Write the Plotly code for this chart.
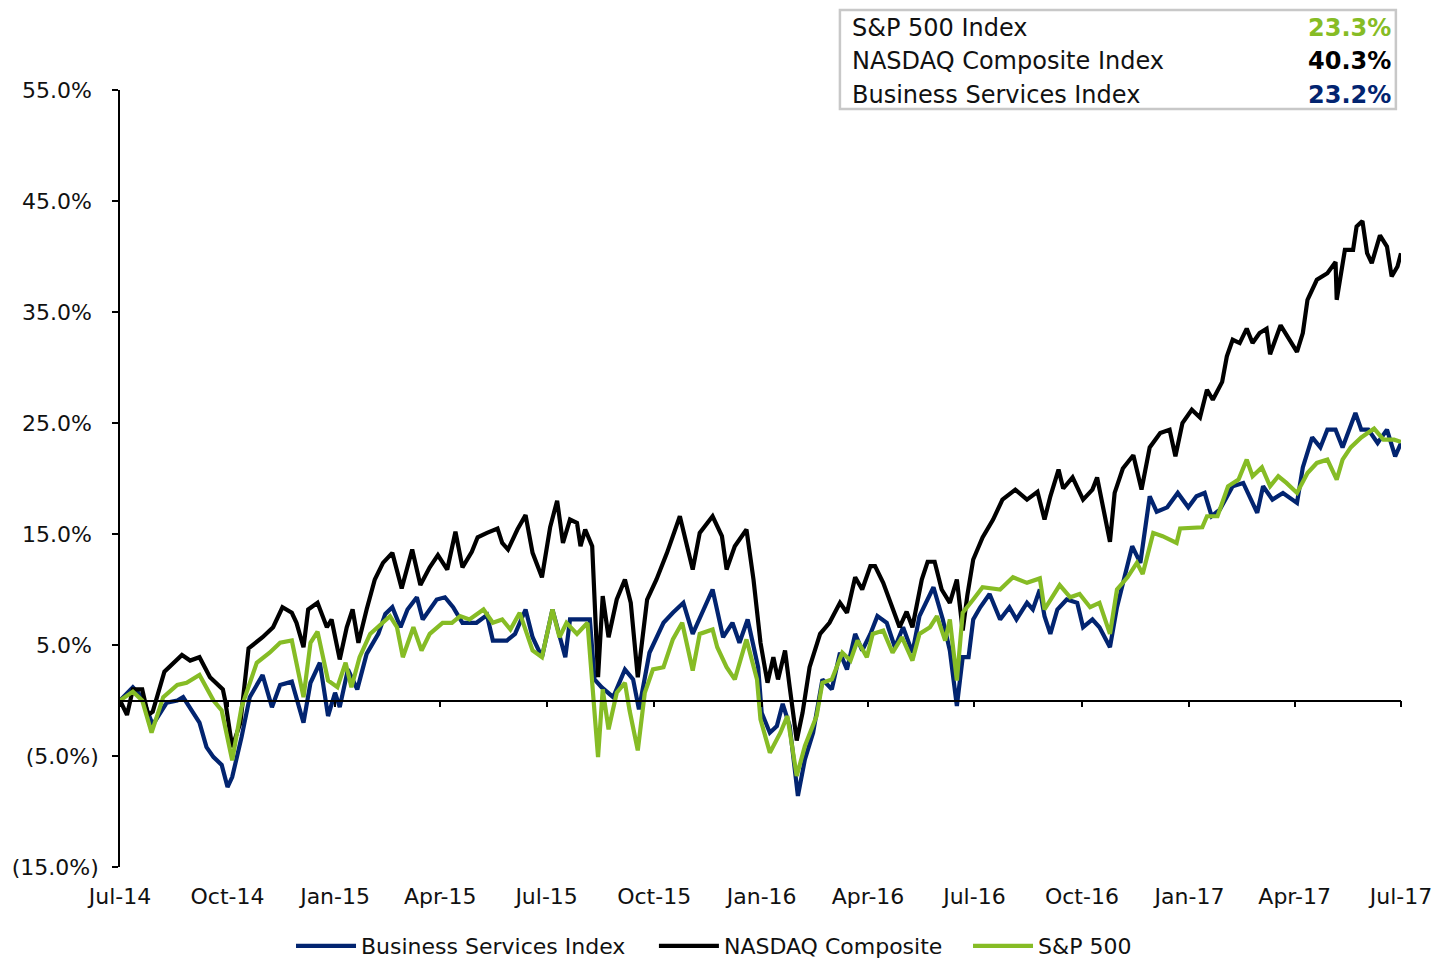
import pandas as pd
import plotly.graph_objects as go

START = pd.Timestamp("2014-07-01")

# Business Services Index (days since 1-Jul-2014, cumulative return %)
bsi_days = [0, 11, 19, 28, 40, 49, 54, 62, 68, 74, 80, 87, 92, 96, 104, 111, 122, 130, 137, 147,
            157, 163, 171, 178, 184, 188, 195, 203, 211, 221, 227, 233, 240, 246, 254, 259, 271, 278,
            285, 293, 305, 314, 319, 331, 338, 347, 353, 361, 370, 381, 385, 394, 402, 406, 412, 422,
            432, 439, 444, 453, 465, 473, 482, 490, 499, 507, 516, 524, 530, 537, 546, 549, 556, 562,
            567, 573, 580, 586, 593, 601, 609, 616, 622, 629, 635, 642, 648, 656, 663, 670, 678, 684,
            696, 704, 710, 716, 721, 726, 730, 736, 744, 753, 761, 767, 776, 781, 787, 791, 796, 802,
            810, 819, 824, 832, 838, 847, 853, 858, 866, 873, 881, 887, 896, 905, 914, 921, 928, 934,
            941, 952, 961, 973, 978, 986, 995, 1007, 1012, 1020, 1027, 1033, 1040, 1046, 1051, 1057,
            1062, 1068, 1076, 1084, 1091, 1096]
bsi_vals = [0.0, 1.2, 0.3, -2.2, -0.2, 0.0, 0.3, -1.1, -2.0, -4.2, -5.1, -5.8, -7.8, -6.9, -3.3, 0.3,
            2.3, -0.6, 1.4, 1.7, -2.0, 1.6, 3.4, -1.4, 0.7, -0.6, 2.8, 1.0, 4.2, 6.0, 7.8, 8.4, 6.6,
            8.2, 9.3, 7.3, 9.1, 9.3, 8.4, 7.0, 7.0, 7.7, 5.4, 5.4, 6.0, 8.2, 5.7, 3.9, 8.2, 3.9, 7.3,
            7.3, 7.3, 1.9, 1.2, 0.3, 2.8, 1.9, -0.8, 4.3, 7.0, 7.9, 8.8, 6.0, 8.2, 10.0, 5.7, 7.0, 5.2,
            7.3, 3.0, -1.1, -2.9, -2.3, -0.3, -2.3, -8.6, -5.3, -2.9, 1.9, 1.0, 4.3, 2.8, 6.0, 4.5,
            6.0, 7.6, 7.0, 4.8, 6.6, 4.3, 7.6, 10.2, 7.3, 4.5, -0.5, 3.9, 3.9, 7.3, 8.4, 9.6, 7.3,
            8.4, 7.3, 8.8, 8.2, 10.0, 7.6, 6.0, 8.2, 9.1, 8.8, 6.6, 7.3, 6.6, 4.8, 8.4, 10.6, 13.9,
            12.4, 18.4, 17.0, 17.4, 18.7, 17.4, 18.4, 18.7, 16.6, 17.2, 19.3, 19.6, 16.9, 19.3, 18.1,
            18.7, 17.8, 21.0, 23.7, 22.8, 24.4, 24.4, 22.8, 24.1, 25.9, 24.4, 24.4, 23.2, 24.4, 22.0,
            23.2]

# NASDAQ Composite
nasdaq_days = [0, 6, 11, 19, 24, 28, 38, 53, 60, 68, 77, 88, 90, 96, 103, 110, 122, 131, 139, 147,
               151, 157, 161, 169, 177, 181, 188, 194, 199, 204, 211, 218, 225, 233, 241, 250, 257,
               265, 272, 280, 287, 293, 301, 306, 314, 323, 327, 332, 340, 347, 353, 361, 368, 374,
               379, 385, 391, 394, 398, 404, 409, 413, 418, 425, 432, 437, 443, 451, 459, 468, 479,
               490, 496, 507, 515, 519, 526, 536, 542, 548, 554, 559, 563, 569, 573, 579, 584, 590,
               599, 607, 616, 622, 629, 635, 642, 646, 653, 661, 667, 673, 678, 686, 691, 697, 703,
               710, 716, 721, 725, 730, 738, 747, 755, 766, 776, 785, 791, 796, 803, 807, 815, 824,
               832, 836, 841, 847, 851, 858, 867, 874, 881, 890, 898, 903, 909, 917, 924, 930, 935,
               943, 947, 952, 958, 964, 969, 975, 981, 984, 993, 999, 1007, 1012, 1016, 1024, 1033,
               1040, 1041, 1048, 1055, 1058, 1063, 1067, 1071, 1078, 1084, 1088, 1093, 1096]
nasdaq_vals = [0.0, -1.3, 1.0, 1.0, -1.3, -1.0, 2.6, 4.1, 3.6, 3.9, 2.1, 1.0, 0.0, -4.2, -2.0, 4.7,
               5.7, 6.6, 8.4, 7.9, 7.0, 4.8, 8.2, 8.8, 6.6, 7.3, 3.7, 6.6, 8.2, 5.2, 8.2, 10.9, 12.4,
               13.3, 10.1, 13.6, 10.4, 12.0, 13.1, 11.8, 15.2, 12.0, 13.4, 14.7, 15.1, 15.5, 14.2,
               13.6, 15.4, 16.7, 13.3, 11.1, 15.6, 18.0, 14.2, 16.3, 16.0, 13.9, 15.4, 13.9, 2.1, 9.4,
               5.7, 9.1, 10.9, 8.8, 2.1, 9.1, 10.9, 13.3, 16.6, 11.8, 15.1, 16.6, 14.8, 11.8, 13.9,
               15.4, 10.9, 5.2, 1.6, 3.9, 1.9, 4.5, 1.2, -3.6, -1.1, 3.0, 6.0, 7.0, 8.8, 7.9, 11.1,
               10.0, 12.1, 12.1, 10.6, 8.4, 6.6, 8.0, 6.6, 10.9, 12.5, 12.5, 10.0, 8.8, 10.9, 6.3, 9.5,
               12.7, 14.7, 16.3, 18.1, 19.0, 18.1, 18.8, 16.3, 18.4, 20.8, 19.1, 20.1, 18.1, 19.0,
               20.1, 17.4, 14.3, 18.7, 20.9, 22.1, 19.0, 22.8, 24.1, 24.4, 22.0, 25.0, 26.2, 25.5,
               28.0, 27.1, 28.7, 31.0, 32.5, 32.2, 33.5, 32.2, 33.1, 33.5, 31.2, 33.8, 32.8, 31.4,
               33.1, 36.1, 37.9, 38.5, 39.5, 36.1, 40.6, 40.6, 42.7, 43.2, 40.3, 39.4, 41.9, 40.9,
               38.2, 39.1, 40.3]

# S&P 500
sp_days = [0, 11, 19, 27, 37, 49, 57, 68, 80, 87, 96, 104, 117, 128, 137, 147, 157, 163, 169, 178,
           186, 193, 198, 205, 214, 224, 231, 237, 242, 251, 258, 265, 276, 284, 291, 299, 311, 319,
           327, 334, 342, 353, 361, 370, 376, 382, 391, 400, 409, 413, 418, 425, 432, 436, 443, 449,
           456, 465, 473, 481, 490, 496, 507, 511, 519, 526, 536, 545, 548, 556, 565, 571, 579, 586,
           596, 601, 609, 618, 625, 631, 639, 644, 653, 661, 669, 678, 684, 693, 699, 706, 710, 716,
           721, 730, 738, 753, 764, 776, 787, 791, 798, 804, 813, 821, 830, 838, 847, 853, 862, 870,
           875, 884, 892, 904, 907, 926, 930, 939, 948, 957, 964, 969, 977, 984, 991, 998, 1007,
           1016, 1024, 1033, 1041, 1046, 1053, 1062, 1073, 1081, 1090, 1096]
sp_vals = [0.0, 0.8, 0.0, -2.9, 0.3, 1.4, 1.6, 2.3, 0.0, -0.9, -5.4, -0.6, 3.4, 4.3, 5.2, 5.4, 0.3,
           5.2, 6.2, 1.8, 1.2, 3.4, 1.2, 3.9, 6.0, 7.0, 7.6, 6.6, 3.9, 6.6, 4.5, 6.0, 7.0, 7.0, 7.6,
           7.3, 8.2, 7.0, 7.3, 6.4, 7.9, 4.5, 3.9, 8.2, 5.7, 7.0, 6.0, 7.0, -5.1, 1.0, -2.6, 0.7,
           1.6, -0.9, -4.5, 0.7, 2.8, 3.0, 5.5, 7.0, 2.7, 6.0, 6.4, 4.8, 3.0, 1.9, 5.5, 1.9, -1.7,
           -4.7, -2.9, -1.4, -6.8, -4.1, -1.4, 1.6, 1.9, 4.3, 3.6, 5.4, 3.9, 6.0, 6.3, 4.3, 5.7, 3.6,
           6.0, 6.6, 7.6, 5.4, 7.3, 1.8, 7.9, 9.1, 10.2, 10.0, 11.1, 10.6, 11.0, 8.2, 9.3, 10.4, 9.3,
           9.6, 8.4, 8.8, 6.0, 10.0, 11.1, 12.4, 11.4, 15.1, 14.8, 14.2, 15.5, 15.6, 16.6, 16.6,
           19.3, 19.9, 21.7, 20.2, 21.0, 19.3, 20.2, 19.6, 18.7, 20.5, 21.4, 21.7, 19.9, 21.7, 22.8,
           23.7, 24.5, 23.5, 23.5, 23.3]

tick_dates = ["2014-07-01", "2014-10-01", "2015-01-01", "2015-04-01", "2015-07-01", "2015-10-01",
              "2016-01-01", "2016-04-01", "2016-07-01", "2016-10-01", "2017-01-01", "2017-04-01",
              "2017-07-01"]
tick_labels = ["Jul-14", "Oct-14", "Jan-15", "Apr-15", "Jul-15", "Oct-15", "Jan-16", "Apr-16",
               "Jul-16", "Oct-16", "Jan-17", "Apr-17", "Jul-17"]
y_ticks = [-15, -5, 5, 15, 25, 35, 45, 55]
# positive labels carry a punctuation space so they align like the bracketed negatives
y_labels = ["(15.0%)", "(5.0%)", "5.0%\u2008", "15.0%\u2008", "25.0%\u2008", "35.0%\u2008",
            "45.0%\u2008", "55.0%\u2008"]

summary_names = ["S&P 500 Index", "NASDAQ Composite Index", "Business Services Index"]
summary_values = ["23.3%", "40.3%", "23.2%"]

NAVY = "#022470"
BLACK = "#000000"
GREEN = "#86BC25"
summary_colors = [GREEN, BLACK, NAVY]

FONT = "Verdana, DejaVu Sans, sans-serif"
TXT = "#111111"


def to_dates(days):
    return START + pd.to_timedelta(days, unit="D")


fig = go.Figure()
series = [
    ("Business Services Index", bsi_days, bsi_vals, NAVY, "legend"),
    ("NASDAQ Composite", nasdaq_days, nasdaq_vals, BLACK, "legend2"),
    ("S&P 500", sp_days, sp_vals, GREEN, "legend3"),
]
for name, days, vals, color, lg in series:
    fig.add_trace(go.Scatter(x=to_dates(days), y=vals, mode="lines", name=name, legend=lg,
                             line=dict(color=color, width=4.2)))

# helper trace so the zero-line axis (with its tick marks) is drawn
fig.add_trace(go.Scatter(x=[tick_dates[0]], y=[0], xaxis="x2", mode="lines",
                         showlegend=False, hoverinfo="skip"))

x_range = [tick_dates[0], tick_dates[-1]]
y_min, y_max = y_ticks[0], y_ticks[-1]

legend_style = dict(orientation="h", xanchor="left", y=-0.1017, yanchor="middle",
                    font=dict(size=22, color=TXT), itemwidth=60, bgcolor="rgba(0,0,0,0)")

fig.update_layout(
    width=1441, height=950,
    margin=dict(l=112, r=48, t=82, b=91, autoexpand=False),
    paper_bgcolor="white", plot_bgcolor="white",
    font=dict(family=FONT, size=22, color=TXT),
    xaxis=dict(type="date", range=x_range, tickvals=tick_dates, ticktext=tick_labels,
               showgrid=False, zeroline=False, showline=False, ticks="",
               ticklabelstandoff=14, automargin=False,
               tickfont=dict(size=22, color=TXT)),
    xaxis2=dict(type="date", range=x_range, tickvals=tick_dates, overlaying="x",
                anchor="free", position=(0 - y_min) / (y_max - y_min), side="bottom",
                showline=True, linecolor="#000000", linewidth=1.5, ticks="outside",
                ticklen=6, tickwidth=1.5, tickcolor="#000000", showticklabels=False,
                showgrid=False, zeroline=False, automargin=False),
    yaxis=dict(range=[y_min, y_max], tickvals=y_ticks, ticktext=y_labels, showgrid=False,
               zeroline=False, showline=True, linecolor="#000000", linewidth=1.5,
               ticks="outside", ticklen=6, tickwidth=1.5, tickcolor="#000000",
               ticklabelstandoff=9, automargin=False,
               tickfont=dict(size=22, color=TXT)),
    legend=dict(x=0.1335, **legend_style),
    legend2=dict(x=0.4168, **legend_style),
    legend3=dict(x=0.6620, **legend_style),
    showlegend=True,
)

# summary box (top right)
fig.add_shape(type="rect", xref="paper", yref="paper", x0=0.562, x1=0.996, y0=0.9755, y1=1.103,
              line=dict(color="#C8C8C8", width=2.5), fillcolor="white", layer="above")
row_y = [1.080, 1.037, 0.9936]
for nm, val, col, yy in zip(summary_names, summary_values, summary_colors, row_y):
    fig.add_annotation(xref="paper", yref="paper", x=0.5699, y=yy, text=nm, showarrow=False,
                       xanchor="left", yanchor="middle", font=dict(size=24, color=TXT))
    fig.add_annotation(xref="paper", yref="paper", x=0.9938, y=yy, text="<b>" + val + "</b>",
                       showarrow=False, xanchor="right", yanchor="middle",
                       font=dict(size=24, color=col))

fig.write_html("out.html")
